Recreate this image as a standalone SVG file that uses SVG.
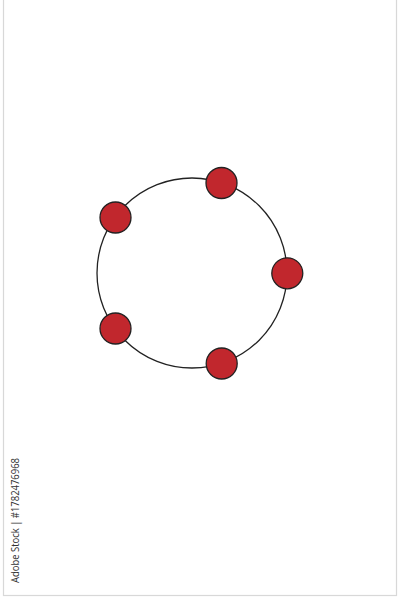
<svg xmlns="http://www.w3.org/2000/svg" width="401" height="600" viewBox="0 0 401 600">
<style>
.dot{fill:#c1272d;stroke:#222;stroke-width:1.3}
.ring{fill:none;stroke:#222;stroke-width:1.3}
.wm{font-family:"Open Sans","Liberation Sans",sans-serif;font-size:11px;fill:#333}
</style>
<rect width="401" height="600" fill="#fff"/>
<rect x="3.5" y="-1" width="393" height="596.5" fill="none" stroke="#d8d8d8" stroke-width="1.2"/>
<g id="connectors">
<circle class="ring" cx="192" cy="273" r="95"/>
</g>
<g id="n1"><circle class="dot" cx="221.5" cy="183" r="15.5"/></g>
<g id="n2"><circle class="dot" cx="115.5" cy="217.5" r="15.5"/></g>
<g id="n3"><circle class="dot" cx="287.3" cy="273.3" r="15.5"/></g>
<g id="n4"><circle class="dot" cx="115.5" cy="328.5" r="15.5"/></g>
<g id="n5"><circle class="dot" cx="221.7" cy="363.5" r="15.5"/></g>
<text class="wm" transform="translate(19,583) rotate(-90)" textLength="125" lengthAdjust="spacingAndGlyphs">Adobe Stock | #1782476968</text>
</svg>
